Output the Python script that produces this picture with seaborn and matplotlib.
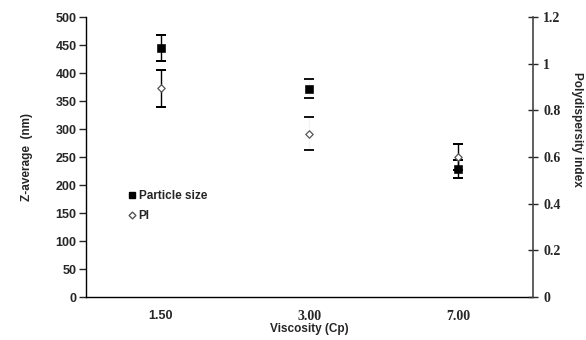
import numpy as np
import pandas as pd
import matplotlib
matplotlib.use('Agg')
import matplotlib.pyplot as plt
import seaborn as sns
from matplotlib.lines import Line2D

viscosity = ['1.50', '3.00', '7.00']
particle_size = [445, 372, 228]
particle_err = [23, 17, 16]
pi_values = [0.895, 0.70, 0.60]
pi_err = [0.08, 0.07, 0.056]

df = pd.DataFrame({'Viscosity': viscosity, 'Size': particle_size, 'PI': pi_values})

sns.set_style('white')
plt.rcParams['font.family'] = ['Liberation Sans', 'DejaVu Sans']

fig = plt.figure(figsize=(5.86, 3.40), dpi=100)
ax = fig.add_axes([0.147, 0.126, 0.762, 0.824])
ax2 = ax.twinx()

# error bars (the 3.00 bars only show their caps in the original)
line_cols = ['black', '#f4f4f4', 'black']
for i in range(3):
    for a, y, e in ((ax, particle_size[i], particle_err[i]), (ax2, pi_values[i], pi_err[i])):
        a.errorbar(i, y, yerr=e, fmt='none', ecolor=line_cols[i], elinewidth=1,
                   capsize=3.5, capthick=1.3, zorder=2)
        a.errorbar(i, y, yerr=e, fmt='none', ecolor='black', elinewidth=0,
                   capsize=3.5, capthick=1.3, zorder=2)

sns.scatterplot(data=df, x='Viscosity', y='Size', ax=ax, marker='s', s=30,
                color='black', edgecolor='black', zorder=3, legend=False)
sns.scatterplot(data=df, x='Viscosity', y='PI', ax=ax2, marker='D', s=14,
                color='white', edgecolor='#555555', linewidth=0.9, zorder=3, legend=False)

ax.set_xlim(-0.5, 2.5)
ax.set_ylim(0, 500)
ax2.set_ylim(0, 1.2)
ax.set_yticks(np.arange(0, 501, 50))
ax2.set_yticks([0, 0.2, 0.4, 0.6, 0.8, 1.0, 1.2])
ax2.set_yticklabels(['0', '0.2', '0.4', '0.6', '0.8', '1', '1.2'])

ax.set_xticks([0, 1, 2])
ax.set_xticklabels(viscosity)
ax.set_xticks([0.5, 1.5], minor=True)
ax.tick_params(axis='x', which='major', length=0, pad=9)
ax.tick_params(axis='x', which='minor', length=7, direction='inout', width=1)
ax.tick_params(axis='y', length=5, direction='out', width=1, pad=2)
ax2.tick_params(axis='y', length=7, direction='inout', width=1, pad=4)

for lab in ax.get_yticklabels():
    lab.set_fontweight('bold'); lab.set_fontsize(9)
for j, lab in enumerate(ax.get_xticklabels()):
    lab.set_fontweight('bold')
    if j > 0:
        lab.set_family('Liberation Serif'); lab.set_fontsize(10)
    else:
        lab.set_family('Liberation Sans'); lab.set_fontsize(9)
for lab in ax2.get_yticklabels():
    lab.set_fontweight('bold'); lab.set_fontsize(10); lab.set_family('Liberation Serif')

for a in (ax, ax2):
    for s in a.spines.values():
        s.set_visible(False)
ax.spines['left'].set_visible(True)
ax.spines['bottom'].set_visible(True)
ax2.spines['right'].set_visible(True)
ax.spines['left'].set_color('black')
ax.spines['bottom'].set_color('black')
ax2.spines['right'].set_color('#444444')
ax.spines['left'].set_linewidth(1)
ax.spines['bottom'].set_linewidth(1)
ax2.spines['right'].set_linewidth(1.2)

ax.set_xlabel('Viscosity (Cp)', fontsize=8.5, fontweight='bold', labelpad=0.5)
ax.set_ylabel('Z-average  (nm)', fontsize=8.5, fontweight='bold', labelpad=16)
ax2.set_ylabel('Polydispersity index', fontsize=8.5, fontweight='bold', rotation=-90)
ax2.yaxis.set_label_coords(1.10, 0.6)
ax2.yaxis.label.set_va('center')
ax2.yaxis.label.set_ha('center')

# legend
handles = [Line2D([], [], marker='s', color='black', linestyle='none', markersize=5),
           Line2D([], [], marker='D', markerfacecolor='white', markeredgecolor='#555555',
                  linestyle='none', markersize=3.5)]
ax.legend(handles, ['Particle size', 'PI'], loc='upper left', bbox_to_anchor=(0.07, 0.42),
          frameon=False, handlelength=0.6, handletextpad=0.3, labelspacing=0.7,
          prop={'size': 8.5, 'weight': 'bold'})

fig.savefig('out.png', dpi=100)
